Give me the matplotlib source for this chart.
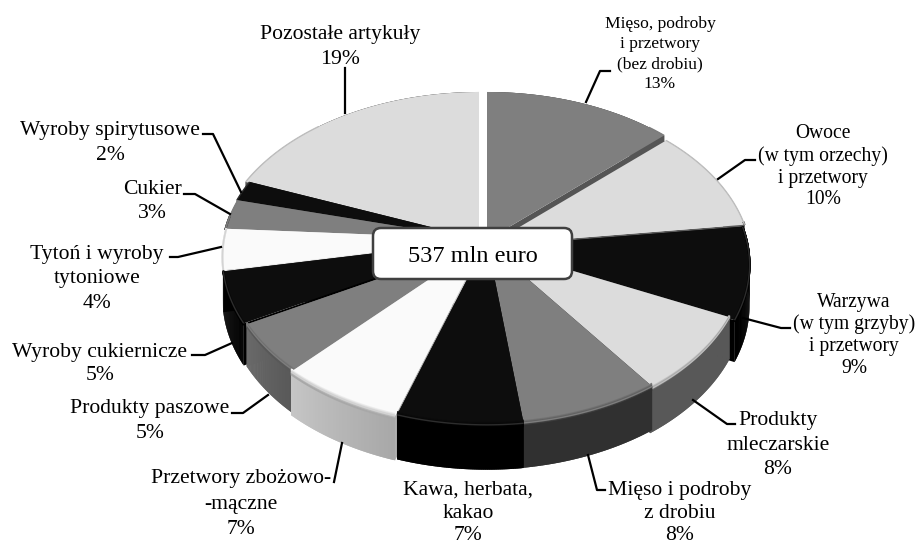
import numpy as np
import matplotlib
matplotlib.use("Agg")
import matplotlib.pyplot as plt
from matplotlib.colors import to_rgb
from matplotlib.patches import FancyBboxPatch

plt.rcParams['font.family'] = ['Liberation Serif', 'DejaVu Serif']

# shares, clockwise from 12 o'clock
values = [13, 10, 9, 8, 8, 7, 7, 5, 5, 4, 3, 2, 19]
labels = ["Mięso, podroby\ni przetwory\n(bez drobiu)", "Owoce\n(w tym orzechy)\ni przetwory",
          "Warzywa\n(w tym grzyby)\ni przetwory", "Produkty\nmleczarskie", "Mięso i podroby\nz drobiu",
          "Kawa, herbata,\nkakao", "Przetwory zbożowo-\n-mączne", "Produkty paszowe",
          "Wyroby cukiernicze", "Tytoń i wyroby\ntytoniowe", "Cukier", "Wyroby spirytusowe",
          "Pozostałe artykuły"]
total_label = "537 mln euro"

top_colors = ['#7f7f7f', '#dcdcdc', '#0d0d0d', '#dcdcdc', '#7f7f7f', '#0d0d0d', '#fafafa',
              '#7f7f7f', '#0d0d0d', '#fafafa', '#7f7f7f', '#0d0d0d', '#dcdcdc']
wall_start = ['#555555', '#5a5a5a', '#000000', '#585858', '#303030', '#000000', '#a8a8a8',
              '#585858', '#000000', '#e6e6e6', '#555555', '#000000', '#555555']
wall_end = ['#555555', '#5a5a5a', '#000000', '#585858', '#303030', '#000000', '#c6c6c6',
            '#6a6a6a', '#000000', '#e6e6e6', '#555555', '#000000', '#555555']
# small shift of every slice in pixels
shift_x = [0, 2, 0, -5, -3, 0, -2, 1, -2, -2, -3, -4, -8]
shift_y = [0, 5, 7, 4, 1, 1, 2, 1, 0, -1, 0, 0, 0]

label_x = [660, 823, 854, 778, 680, 468, 241, 150, 100, 97, 152, 110, 340]
label_y = [24, 134, 302, 420, 490, 490, 479, 408, 352, 254, 189, 130, 35]
label_size = [12.6, 14.1, 14.1, 15.6, 15.6, 15.6, 15.6, 15.6, 15.6, 15.6, 15.6, 15.6, 15.6]
line_step = [20, 22, 22.3, 25, 23, 23, 25, 25, 24, 25, 25, 25, 25]

leaders = [[(610, 71), (600, 71), (586, 102)],
           [(755, 160), (745, 160), (718, 179)],
           [(790, 328), (781, 328), (743, 318)],
           [(735, 424), (727, 424), (693, 400)],
           [(605, 490), (597, 490), (588, 455)],
           [(334, 482), (342, 443)],
           [(232, 413), (243, 413), (268, 395)],
           [(192, 355), (205, 355), (232, 343)],
           [(170, 257), (178, 257), (221, 247)],
           [(184, 194), (195, 194), (230, 214)],
           [(203, 134), (213, 134), (241, 192)],
           [(345, 68), (345, 113)]]

cx, cy = 487, 240
a, b, k = 261, 164, 0.108
depth = 40


def project(ang, r):
    x = r * np.sin(ang)
    y = r * np.cos(ang)
    f = 1 / (1 + k * y)
    return cx + a * x * f, cy - b * y * f, f


def blend(c1, c2, t):
    return tuple(np.array(to_rgb(c1)) * (1 - t) + np.array(to_rgb(c2)) * t)


fig = plt.figure(figsize=(9.18, 5.46), dpi=100)
ax = fig.add_axes([0, 0, 1, 1])
ax.set_xlim(0, 918)
ax.set_ylim(546, 0)
ax.axis('off')

cum = np.cumsum([0] + values) / sum(values) * 2 * np.pi
order = sorted(range(len(values)), key=lambda i: -np.cos((cum[i] + cum[i + 1]) / 2))

for i in order:
    ang = np.linspace(cum[i], cum[i + 1], 70)
    xs, ys, fs = project(ang, 1)
    xs = xs + shift_x[i]
    ys = ys + shift_y[i]
    tip_x = cx + shift_x[i]
    tip_y = cy + shift_y[i]

    # radial walls
    for j in [0, -1]:
        ax.fill([tip_x, xs[j], xs[j], tip_x], [tip_y, ys[j], ys[j] + depth * fs[j], tip_y + depth],
                color=wall_start[i] if j == 0 else wall_end[i], lw=0, zorder=2)
    # outer wall, overlapping strips so the shading has no seams
    for j in range(len(ang) - 1):
        m = min(j + 2, len(ang) - 1)
        ax.fill([xs[j], xs[m], xs[m], xs[j]],
                [ys[j], ys[m], ys[m] + depth * fs[m], ys[j] + depth * fs[j]],
                color=blend(wall_start[i], wall_end[i], j / (len(ang) - 1)), lw=0, zorder=2)
    ax.fill(np.r_[tip_x, xs], np.r_[tip_y, ys], color=top_colors[i], lw=0, zorder=2)

    # soft rounded edge on the part facing the viewer
    front = np.cos(ang) < 0.15
    if front.any():
        h = np.clip(-np.cos(ang[front]) + 0.15, 0, 1)
        for s in range(7):
            ax.plot(xs[front], ys[front] - 3 * h + s * h, lw=1.3, solid_capstyle='butt', zorder=2,
                    color=blend(top_colors[i], wall_start[i], s / 6))
    side = np.cos(ang) < 0.75
    if side.any():
        ax.plot(xs[side], ys[side], lw=1, zorder=2, solid_capstyle='butt',
                color=blend(top_colors[i], '#777777', 0.3))

for pts in leaders:
    ax.plot([p[0] for p in pts], [p[1] for p in pts], color='black', lw=1.6, zorder=3)

for i in range(len(values)):
    lines = labels[i].split("\n") + ["%d%%" % values[i]]
    for j, line in enumerate(lines):
        ax.text(label_x[i], label_y[i] + j * line_step[i], line, fontsize=label_size[i],
                ha='center', va='center', color='black', zorder=4)

box = FancyBboxPatch((373, 228), 199, 51, boxstyle="round,pad=0,rounding_size=8",
                     fc='white', ec='#404040', lw=1.8, zorder=5)
ax.add_patch(box)
ax.text(472.5, 256, total_label, fontsize=17.5, ha='center', va='center', zorder=6)

fig.savefig('out.png', dpi=100)
